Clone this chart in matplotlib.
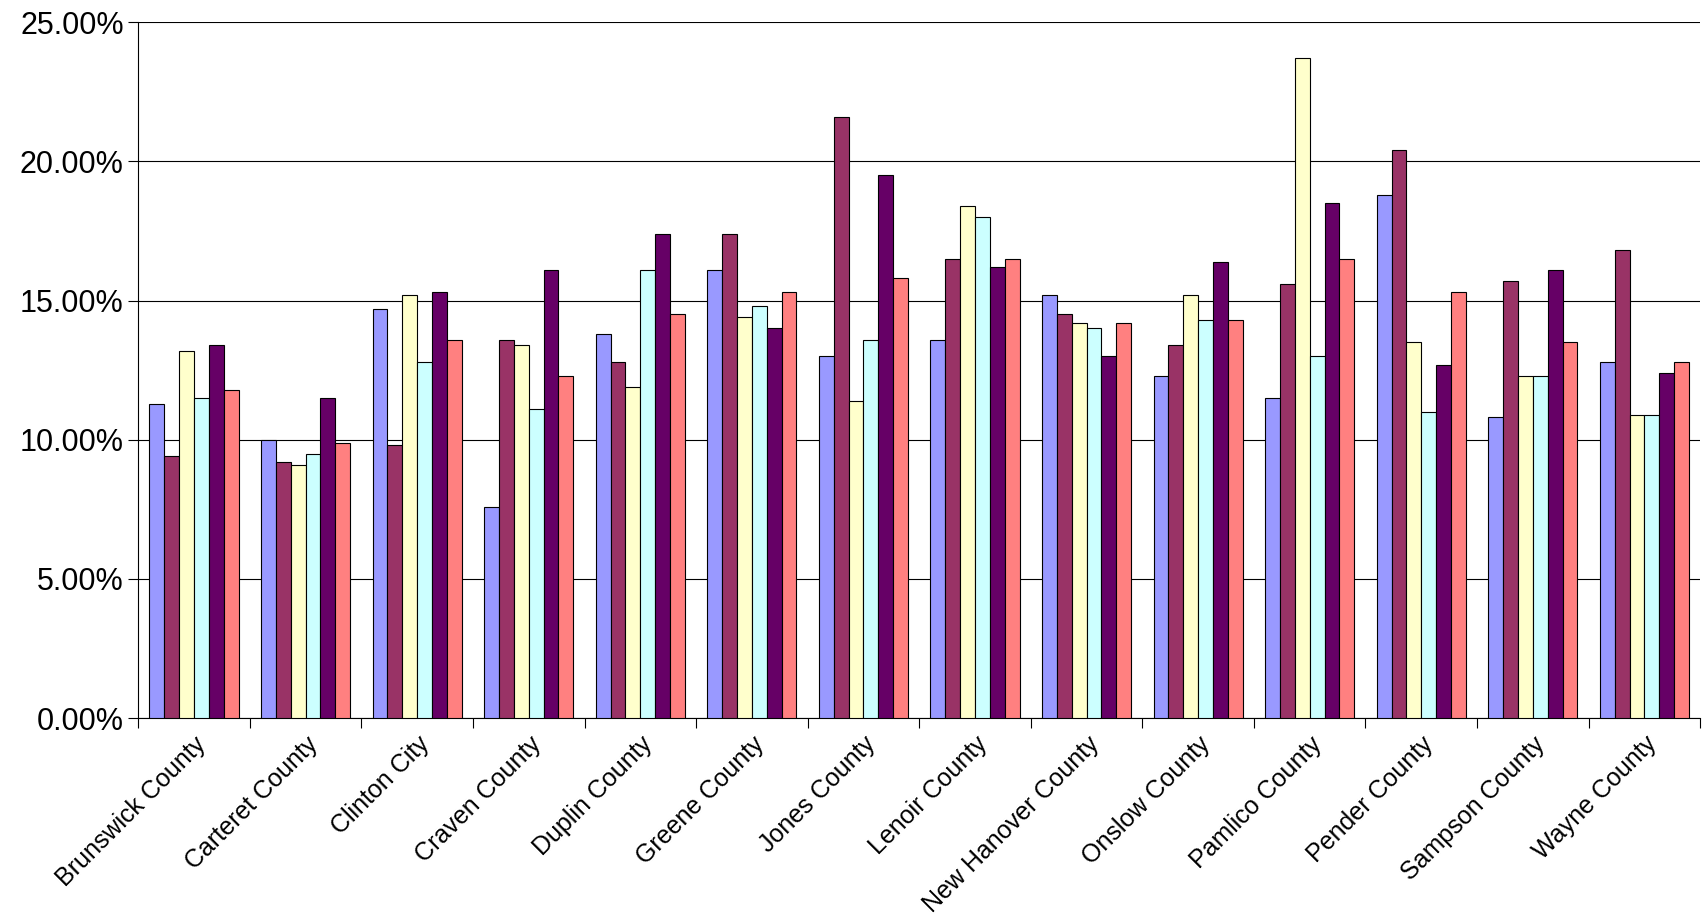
import matplotlib.pyplot as plt
import numpy as np
from matplotlib.ticker import PercentFormatter

plt.rcParams['font.family'] = ['Liberation Sans', 'DejaVu Sans']

counties = ['Brunswick County', 'Carteret County', 'Clinton City', 'Craven County',
            'Duplin County', 'Greene County', 'Jones County', 'Lenoir County',
            'New Hanover County', 'Onslow County', 'Pamlico County', 'Pender County',
            'Sampson County', 'Wayne County']

# six series per county (percent)
s1 = [11.3, 10.0, 14.7, 7.6, 13.8, 16.1, 13.0, 13.6, 15.2, 12.3, 11.5, 18.8, 10.8, 12.8]
s2 = [9.4, 9.2, 9.8, 13.6, 12.8, 17.4, 21.6, 16.5, 14.5, 13.4, 15.6, 20.4, 15.7, 16.8]
s3 = [13.2, 9.1, 15.2, 13.4, 11.9, 14.4, 11.4, 18.4, 14.2, 15.2, 23.7, 13.5, 12.3, 10.9]
s4 = [11.5, 9.5, 12.8, 11.1, 16.1, 14.8, 13.6, 18.0, 14.0, 14.3, 13.0, 11.0, 12.3, 10.9]
s5 = [13.4, 11.5, 15.3, 16.1, 17.4, 14.0, 19.5, 16.2, 13.0, 16.4, 18.5, 12.7, 16.1, 12.4]
s6 = [11.8, 9.9, 13.6, 12.3, 14.5, 15.3, 15.8, 16.5, 14.2, 14.3, 16.5, 15.3, 13.5, 12.8]
series = [s1, s2, s3, s4, s5, s6]
colors = ['#9999FF', '#993366', '#FFFFCC', '#CCFFFF', '#660066', '#FF8080']

fig = plt.figure(figsize=(17.07, 9.23), dpi=100)
ax = fig.add_axes([0.081, 0.222, 0.915, 0.754])

x = np.arange(len(counties))
w = 0.8 / 6
for i, (vals, c) in enumerate(zip(series, colors)):
    ax.bar(x - 0.4 + w * (i + 0.5), vals, w, color=c, edgecolor='black', linewidth=0.8, zorder=3)

ax.set_xlim(-0.5, len(counties) - 0.5)
ax.set_ylim(0, 25)
ax.set_yticks(np.arange(0, 26, 5))
ax.yaxis.set_major_formatter(PercentFormatter(decimals=2))
ax.grid(axis='y', color='black', linewidth=0.8, zorder=0)
for s in ['top', 'right']:
    ax.spines[s].set_visible(False)

ax.set_xticks(np.arange(-0.5, len(counties), 1))
ax.set_xticklabels([])
ax.tick_params(axis='x', length=7, direction='out')
ax.tick_params(axis='y', length=7, direction='out', labelsize=22)
ax.set_xticks(x, minor=True)
ax.set_xticklabels(counties, minor=True, rotation=45, ha='right', rotation_mode='anchor', fontsize=18)
ax.tick_params(axis='x', which='minor', length=0, pad=10)

fig.savefig('out.png', dpi=100)
